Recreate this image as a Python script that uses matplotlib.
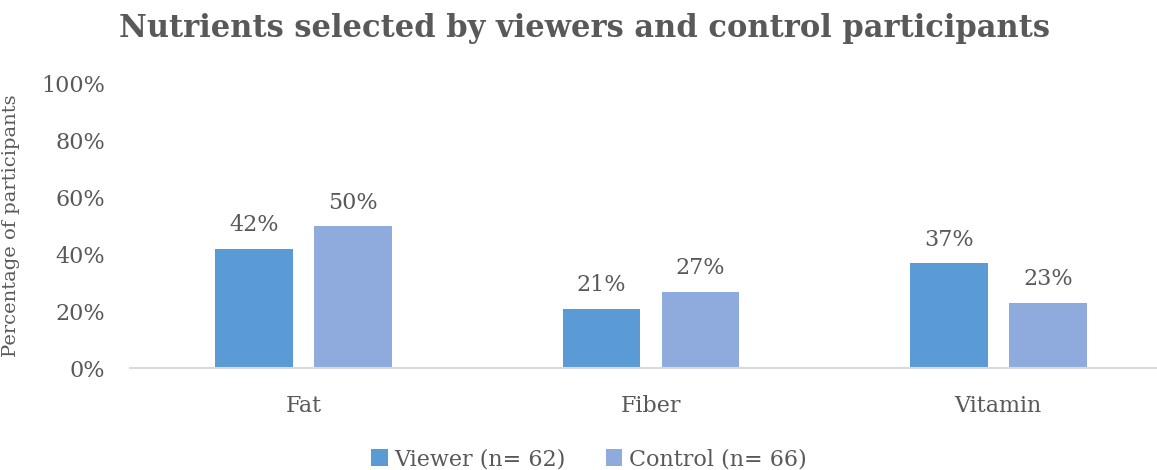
import numpy as np
import matplotlib.pyplot as plt

# Data
categories = ['Fat', 'Fiber', 'Vitamin']
viewer = [0.42, 0.21, 0.37]
control = [0.50, 0.27, 0.23]
series_names = ['Viewer (n= 62)', 'Control (n= 66)']

plt.rcParams['font.family'] = ['DejaVu Serif']
grey = '#595959'

fig = plt.figure(figsize=(11.57, 4.70), dpi=100)
ax = fig.add_axes([0.1124, 0.2164, 0.8876, 0.605])

x = np.arange(len(categories))
w = 0.2234
off = 0.1427
b1 = ax.bar(x - off, viewer, w, color='#5B9BD5', label=series_names[0])
b2 = ax.bar(x + off, control, w, color='#8FAADC', label=series_names[1])

for bars, vals in ((b1, viewer), (b2, control)):
    for rect, v in zip(bars, vals):
        ax.annotate(f'{v:.0%}', (rect.get_x() + rect.get_width() / 2, v),
                    xytext=(0, 9), textcoords='offset points',
                    ha='center', va='bottom', fontsize=16, color=grey)

ax.set_xlim(-0.5, 2.457)
ax.set_ylim(0, 1)
ax.set_xticks(x)
ax.set_xticklabels(categories)
ax.set_yticks(np.arange(0, 1.01, 0.2))
ax.set_yticklabels([f'{int(t*100)}%' for t in np.arange(0, 1.01, 0.2)])
ax.tick_params(axis='both', length=0, labelsize=16, colors=grey)
ax.tick_params(axis='y', pad=18)
ax.tick_params(axis='x', pad=19)

for s in ('top', 'right', 'left'):
    ax.spines[s].set_visible(False)
ax.spines['bottom'].set_color('#D9D9D9')
ax.spines['bottom'].set_linewidth(1.5)

ax.set_ylabel('Percentage of participants', fontsize=14, color=grey)
ax.yaxis.set_label_coords(-0.107, 0.5)

fig.text(0.505, 0.94, 'Nutrients selected by viewers and control participants',
         ha='center', va='center', fontsize=22, fontweight='bold', color=grey)

fig.legend(loc='lower center', bbox_to_anchor=(0.509, -0.043), ncol=2,
           frameon=False, fontsize=16, handlelength=0.75, handleheight=0.75,
           handletextpad=0.3, columnspacing=1.8, labelcolor=grey)

fig.savefig('out.png', dpi=100)
